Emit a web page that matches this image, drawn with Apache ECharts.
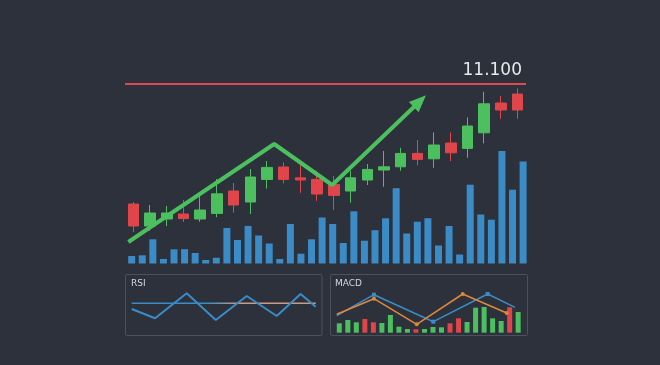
<!DOCTYPE html>
<html><head><meta charset="utf-8">
<script src="https://cdn.jsdelivr.net/npm/echarts@6/dist/echarts.min.js"></script>
<style>html,body{margin:0;padding:0;background:#2c313c;}#c{width:660px;height:365px;}</style>
</head><body><div id="c"></div>
<script>
// ---- data ----
const candleDays = ['D1','D2','D3','D4','D5','D6','D7','D8','D9','D10','D11','D12','D13','D14','D15','D16','D17','D18','D19','D20','D21','D22','D23','D24'];
// [open, close, low, high]
const ohlc = [
  [10.500,10.390,10.360,10.510],[10.390,10.455,10.366,10.495],[10.425,10.455,10.390,10.490],[10.450,10.427,10.410,10.520],
  [10.425,10.470,10.411,10.542],[10.453,10.551,10.434,10.625],[10.565,10.495,10.457,10.605],[10.510,10.635,10.450,10.675],
  [10.623,10.683,10.577,10.715],[10.685,10.623,10.603,10.708],[10.631,10.620,10.556,10.701],[10.623,10.550,10.516,10.666],
  [10.598,10.543,10.470,10.641],[10.565,10.631,10.506,10.666],[10.620,10.673,10.595,10.700],[10.670,10.686,10.586,10.765],
  [10.686,10.753,10.666,10.781],[10.753,10.723,10.693,10.820],[10.726,10.795,10.681,10.858],[10.805,10.756,10.715,10.858],
  [10.778,10.890,10.731,10.933],[10.856,11.001,10.803,11.061],[11.005,10.970,10.926,11.040],[11.050,10.970,10.926,11.078]
];
const resistanceLevel = 11.1;
const resistanceLabel = '11.100';
const volumeDays = Array.from({length:38},(_,i)=>'V'+(i+1));
const volumes = [7.5,8.2,24.2,4.5,14.2,14.3,10.5,3.5,5.7,35.5,23.5,37.6,28,20,4.5,39.5,9.8,24.2,46,39.5,20.5,52.2,22.8,33.3,45.2,75.3,30,41.8,45.3,18,37.5,9,78.8,49,43.8,112.5,73.8,102];
// trend arrow: [candle index position, price]
const trendPoints = [[-0.30,10.310],[8.43,10.800],[11.90,10.595],[17.15,11.014]];
// RSI panel
const rsiPoints = [[0,44.3],[12.7,35],[29.9,60],[45.7,33.3],[62.5,57.3],[78.8,37.3],[91.8,59.3],[100,46.6]];
const rsiLevel = [[0,50],[100,50]];
// MACD panel
const macdBars = ['M1','M2','M3','M4','M5','M6','M7','M8','M9','M10','M11','M12','M13','M14','M15','M16','M17','M18','M19','M20','M21','M22'];
const histValues = [9.4,12.7,10.4,13.7,10.4,9.7,17.7,6,3.7,3.4,3.7,5.7,5.4,9.4,14.4,10.7,25,25.7,14.4,11.7,25.4,20.7];
const histSign = ['up','up','up','down','down','up','up','up','up','down','up','up','up','down','down','up','up','up','up','up','down','up'];
const macdLine = [[-0.30,17],[4.07,38],[11.04,11],[17.42,38.7],[20.63,25.4]];
const macdMarked = [false,true,true,true,false];
const signalLine = [[-0.30,18.4],[4.07,34],[9.09,8.4],[14.49,38.7],[19.65,19.7]];
const signalMarked = [false,true,true,true,true];

// ---- styles ----
const GREEN='#4cbf5e', RED='#df4549', BLUE='#3b8cc6', ORANGE='#e0883a', BG='#2c313c';
const chart = echarts.init(document.getElementById('c'));
const hidden = {show:false};
const trendData = trendPoints.map((p,i)=> i===trendPoints.length-1
  ? {value:p, symbol:'triangle', symbolSize:[14,17], symbolRotate:-46.2, itemStyle:{color:GREEN}}
  : {value:p, symbol:'none'});
chart.setOption({
  backgroundColor: BG,
  animation: false,
  title: [
    {text:'RSI', left:131, top:279.5, padding:0, textStyle:{color:'#d4d7dc', fontSize:9, fontWeight:'normal', fontFamily:'DejaVu Sans'}},
    {text:'MACD', left:335, top:279.5, padding:0, textStyle:{color:'#d4d7dc', fontSize:9, fontWeight:'normal', fontFamily:'DejaVu Sans'}}
  ],
  graphic: [
    {type:'rect', shape:{x:125.5,y:274.5,width:196.5,height:61,r:1}, style:{fill:'none', stroke:'#4c525d', lineWidth:1}, z:-1},
    {type:'rect', shape:{x:330.5,y:274.5,width:197,height:61,r:1}, style:{fill:'none', stroke:'#4c525d', lineWidth:1}, z:-1}
  ],
  grid: [
    {left:125, width:401, top:64, height:200},
    {left:126.4, width:402, top:143.5, height:120},
    {left:131.7, width:184, top:273.3, height:60},
    {left:335.04, width:187.4, top:272.7, height:60}
  ],
  xAxis: [
    {type:'category', data:candleDays, gridIndex:0, show:false},
    {type:'value', min:-0.5, max:23.5, gridIndex:0, show:false},
    {type:'category', data:volumeDays, gridIndex:1, show:false},
    {type:'value', min:0, max:100, gridIndex:2, show:false},
    {type:'category', data:macdBars, gridIndex:3, show:false},
    {type:'value', min:-0.5, max:21.5, gridIndex:3, show:false}
  ],
  yAxis: [
    {type:'value', min:10.2, max:11.2, gridIndex:0, show:false},
    {type:'value', min:0, max:120, gridIndex:1, show:false},
    {type:'value', min:20, max:80, gridIndex:2, show:false},
    {type:'value', min:0, max:60, gridIndex:3, show:false}
  ],
  series: [
    {type:'bar', xAxisIndex:2, yAxisIndex:1, data:volumes, barWidth:7, itemStyle:{color:BLUE}, z:1},
    {type:'candlestick', xAxisIndex:0, yAxisIndex:0, data:ohlc, barWidth:11, z:2,
      itemStyle:{color:GREEN, color0:RED, borderColor:GREEN, borderColor0:RED, borderWidth:1},
      markLine:{silent:true, symbol:['none','none'],
        lineStyle:{color:'#de4a4c', width:2, type:'solid'},
        label:{show:true, position:'insideEndTop', formatter:resistanceLabel, color:'#e8e9eb', fontSize:17, fontFamily:'DejaVu Sans', distance:[4,5]},
        data:[{yAxis:resistanceLevel}]}
    },
    {type:'line', xAxisIndex:1, yAxisIndex:0, data:trendData, z:3, lineStyle:{color:GREEN, width:4}, itemStyle:{color:GREEN}},
    {type:'line', xAxisIndex:3, yAxisIndex:2, data:rsiLevel, symbol:'none', z:2,
      lineStyle:{width:1.5, color:{type:'linear', x:0,y:0,x2:1,y2:0, colorStops:[{offset:0,color:BLUE},{offset:0.42,color:BLUE},{offset:0.58,color:'#c99a86'},{offset:1,color:'#c99a86'}]}}},
    {type:'line', xAxisIndex:3, yAxisIndex:2, data:rsiPoints, symbol:'none', z:3, lineStyle:{color:BLUE, width:2}},
    {type:'bar', xAxisIndex:4, yAxisIndex:3, barWidth:5, z:1,
      data:histValues.map((v,i)=>({value:v, itemStyle:{color: histSign[i]==='up'?GREEN:RED}}))},
    {type:'line', xAxisIndex:5, yAxisIndex:3, z:3, lineStyle:{color:BLUE, width:1.5}, itemStyle:{color:BLUE},
      data:macdLine.map((p,i)=>({value:p, symbol: macdMarked[i]?'rect':'none', symbolSize:4}))},
    {type:'line', xAxisIndex:5, yAxisIndex:3, z:3, lineStyle:{color:ORANGE, width:1.5}, itemStyle:{color:ORANGE},
      data:signalLine.map((p,i)=>({value:p, symbol: signalMarked[i]?'circle':'none', symbolSize:4}))}
  ]
});
</script></body></html>
